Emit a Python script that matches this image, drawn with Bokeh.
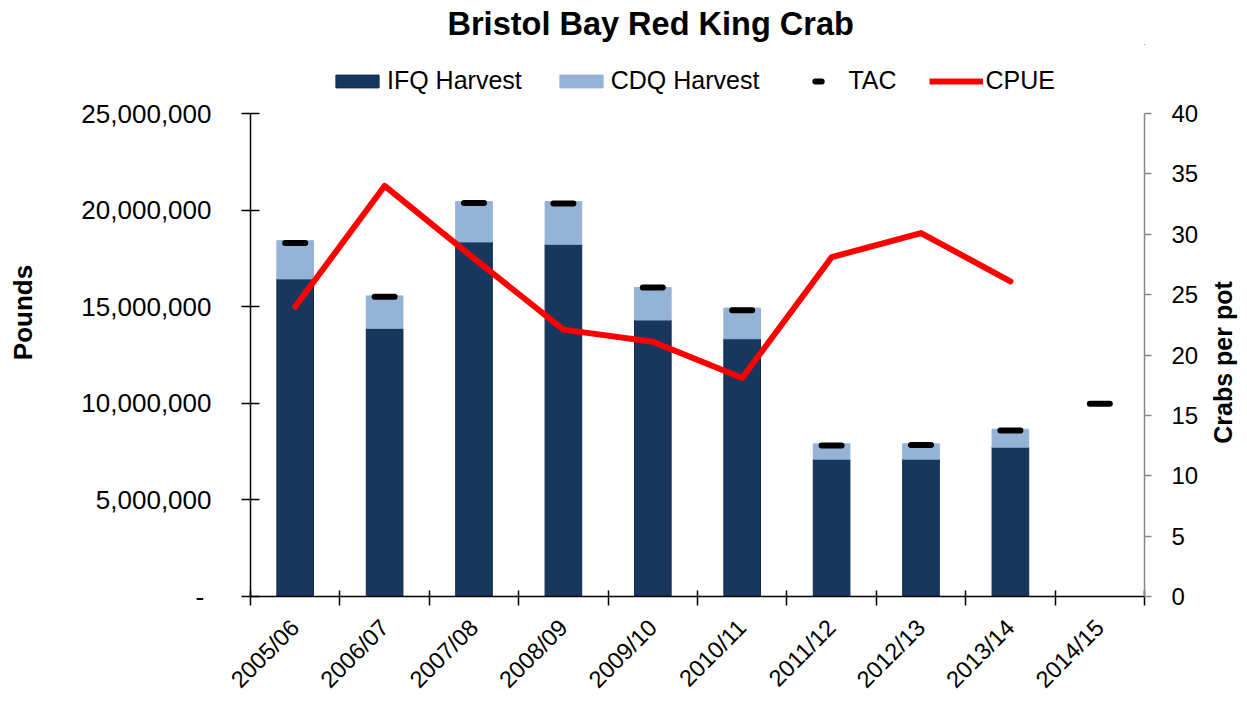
import math
from bokeh.plotting import figure
from bokeh.layouts import column
from bokeh.models import (Range1d, LinearAxis, FixedTicker, NumeralTickFormatter, Legend,
                          LegendItem, ColumnDataSource, Label)
from bokeh.embed import file_html
from bokeh.resources import INLINE

nan = float("nan")

# ---- data ----
seasons = ["2005/06", "2006/07", "2007/08", "2008/09", "2009/10",
           "2010/11", "2011/12", "2012/13", "2013/14", "2014/15"]
ifq_harvest = [16.44e6, 13.88e6, 18.35e6, 18.23e6, 14.31e6,
               13.34e6, 7.11e6, 7.11e6, 7.73e6, nan]
cdq_harvest = [1.98e6, 1.68e6, 2.09e6, 2.21e6, 1.69e6,
               1.59e6, 0.79e6, 0.79e6, 0.93e6, nan]
tac = [18.30e6, 15.51e6, 20.37e6, 20.34e6, 16.00e6,
       14.82e6, 7.81e6, 7.84e6, 8.59e6, 9.98e6]
cpue = [24.0, 34.0, 28.0, 22.1, 21.1, 18.1, 28.1, 30.1, 26.1, nan]
pounds_ticks = [0, 5e6, 10e6, 15e6, 20e6, 25e6]
cpue_ticks = [0, 5, 10, 15, 20, 25, 30, 35, 40]

FONT = "Liberation Sans"
DARK = "#17375E"
DARK_EDGE = "#10294a"
LIGHT = "#95B3D7"
GREY = "#868686"
RED = "#FF0000"

n = len(seasons)
src = ColumnDataSource(dict(x=list(range(n)), ifq=ifq_harvest, cdq=cdq_harvest,
                            tac=tac, cpue=cpue))

# ---------------- header figure: title + legend ----------------
# its ranges lie away from all of the data, so its renderers only supply legend swatches
top = figure(width=1247, height=98, x_range=Range1d(-3, -2), y_range=Range1d(-3e7, -2e7),
             x_axis_type=None, y_axis_type=None, output_backend="svg",
             toolbar_location=None, min_border_left=0, min_border_right=0,
             min_border_top=42, min_border_bottom=0, title="Bristol Bay Red King Crab")
top.outline_line_color = None
top.grid.visible = False
top.title.align = "left"
top.title.offset = 197
top.title.standoff = 6
top.title.text_font = FONT
top.title.text_font_size = "32.5px"
top.title.text_font_style = "bold"
top.title.text_color = "black"

lg_ifq = top.vbar(x="x", top="ifq", width=0.41, source=src,
                  fill_color=DARK, line_color=DARK_EDGE, line_width=1)
lg_cdq = top.vbar(x="x", top="cdq", width=0.41, source=src,
                  fill_color=LIGHT, line_color=LIGHT, line_width=1)
lg_tac = top.scatter(x="x", y="tac", source=src, marker="dash", size=20,
                     line_width=6, line_color="black", line_cap="round")
lg_cpue = top.line(x="x", y="cpue", source=src, line_color=RED, line_width=6)

legend = Legend(items=[LegendItem(label="IFQ Harvest", renderers=[lg_ifq]),
                       LegendItem(label="CDQ Harvest", renderers=[lg_cdq]),
                       LegendItem(label="TAC", renderers=[lg_tac]),
                       LegendItem(label="CPUE", renderers=[lg_cpue])],
                orientation="horizontal", location=(80, 3), padding=0, margin=0,
                spacing=32, label_standoff=3, glyph_width=54, glyph_height=16,
                border_line_color=None, background_fill_alpha=0,
                label_text_font=FONT, label_text_font_size="25px",
                label_text_color="black")
top.add_layout(legend)

# ---------------- main chart ----------------
p = figure(width=1247, height=606, x_range=Range1d(-0.5, n - 0.5),
           y_range=Range1d(0, 25e6), output_backend="svg", toolbar_location=None,
           min_border_left=250, min_border_right=103, min_border_top=15,
           min_border_bottom=108)
p.extra_y_ranges = {"cpue": Range1d(0, 40)}
p.xgrid.visible = False
p.ygrid.visible = False
p.outline_line_color = None

# bottom axis: boundary ticks (minor), rotated season labels (major, no tick mark)
xa = p.xaxis[0]
xa.ticker = FixedTicker(ticks=list(range(n)), minor_ticks=[i - 0.5 for i in range(n + 1)])
xa.major_label_overrides = {i: s for i, s in enumerate(seasons)}
xa.major_label_orientation = math.pi / 4
xa.major_label_standoff = 18
xa.major_label_text_font = FONT
xa.major_label_text_font_size = "23.5px"
xa.major_label_text_color = "black"
xa.axis_line_color = "black"
xa.axis_line_width = 1.5
xa.major_tick_in = 0
xa.major_tick_out = 0
xa.minor_tick_in = 6
xa.minor_tick_out = 9
xa.minor_tick_line_color = "black"
xa.minor_tick_line_width = 1.5

# left axis
ya = p.yaxis[0]
ya.ticker = FixedTicker(ticks=pounds_ticks)
ya.formatter = NumeralTickFormatter(format="0,0")
ya.major_label_overrides = {0: "-\u00a0"}
ya.axis_line_color = "black"
ya.axis_line_width = 1.5
ya.major_tick_in = 9
ya.major_tick_out = 9
ya.major_tick_line_color = "black"
ya.major_tick_line_width = 1.5
ya.minor_tick_line_color = None
ya.major_label_standoff = 30
ya.major_label_text_font = FONT
ya.major_label_text_font_size = "26px"
ya.major_label_text_color = "black"

# left axis title in its own side panel (above the frame's middle, as in the reference)
left_title = Label(x=-26, y=284, x_units="screen", y_units="screen",
                   text="Pounds", angle=math.pi / 2, text_align="center",
                   text_baseline="middle", text_font=FONT, text_font_size="26px",
                   text_font_style="bold", text_color="black")
p.add_layout(left_title, "left")

# right axis
ra = LinearAxis(y_range_name="cpue", ticker=FixedTicker(ticks=cpue_ticks))
ra.axis_line_color = GREY
ra.axis_line_width = 1.5
ra.major_tick_in = 0
ra.major_tick_out = 7
ra.major_tick_line_color = GREY
ra.major_tick_line_width = 1.5
ra.minor_tick_line_color = None
ra.major_label_standoff = 20
ra.major_label_text_font = FONT
ra.major_label_text_font_size = "24px"
ra.major_label_text_color = "black"
p.add_layout(ra, "right")

# right axis title, reading bottom to top, in its own side panel
right_title = Label(x=21, y=234, x_units="screen", y_units="screen",
                    text="Crabs per pot", angle=math.pi / 2, text_align="center",
                    text_baseline="middle", text_font=FONT, text_font_size="25px",
                    text_font_style="bold", text_color="black")
p.add_layout(right_title, "right")

# glyphs
bars = p.vbar_stack(["ifq", "cdq"], x="x", width=0.41, source=src,
                    fill_color=[DARK, LIGHT], line_color=[DARK_EDGE, LIGHT], line_width=1)
cpue_line = p.line("x", "cpue", source=src, y_range_name="cpue", line_color=RED,
                   line_width=6, line_join="round", line_cap="round")
tac_marks = p.scatter("x", "tac", source=src, marker="dash", size=20, line_width=6,
                      line_color="black", line_cap="round")

layout = column(top, p, spacing=0)
open("out.html", "w").write(file_html(layout, INLINE))
